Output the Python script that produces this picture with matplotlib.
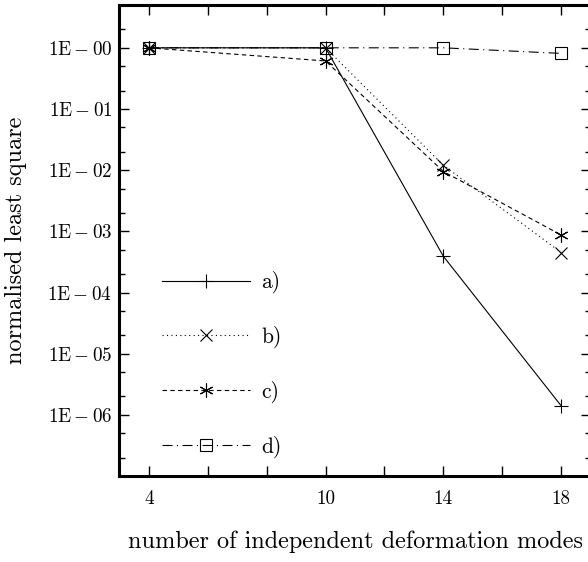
import matplotlib
matplotlib.use("Agg")
import matplotlib.pyplot as plt
from matplotlib.ticker import FixedLocator, FixedFormatter, NullFormatter

plt.rcParams['mathtext.fontset'] = 'cm'
plt.rcParams['font.family'] = 'cmr10'
plt.rcParams['axes.unicode_minus'] = False
plt.rcParams['axes.formatter.use_mathtext'] = True

# data
modes = [4, 10, 14, 18]
series_a = [1.0, 1.0, 3.9e-4, 1.4e-6]
series_b = [1.0, 1.0, 1.2e-2, 4.5e-4]
series_c = [1.0, 0.61, 9.5e-3, 8.7e-4]
series_d = [1.0, 1.0, 1.0, 0.81]
labels = ['a)', 'b)', 'c)', 'd)']
x_tick_all = [4, 6, 8, 10, 12, 14, 16, 18]
x_tick_labels = ['4', '', '', '10', '', '14', '', '18']
y_tick_vals = [1e0, 1e-1, 1e-2, 1e-3, 1e-4, 1e-5, 1e-6]
y_tick_labels = [r'$\mathrm{1E-00}$', r'$\mathrm{1E-01}$', r'$\mathrm{1E-02}$',
                 r'$\mathrm{1E-03}$', r'$\mathrm{1E-04}$', r'$\mathrm{1E-05}$',
                 r'$\mathrm{1E-06}$']

fig = plt.figure(figsize=(5.88, 5.62), dpi=100)
ax = fig.add_axes([0.2029, 0.153, 0.8017, 0.838])

lw = 0.8
ax.plot(modes, series_a, color='black', lw=lw, ls='-', marker='+', ms=10, mew=0.8, label=labels[0])
ax.plot(modes, series_b, color='black', lw=lw, ls=(0, (1, 3)), marker='x', ms=8, mew=0.8, label=labels[1])
ax.plot(modes, series_c, color='black', lw=lw, ls=(0, (4, 3)), marker=(6, 2, 0), ms=10, mew=0.8, label=labels[2])
ax.plot(modes, series_d, color='black', lw=lw, ls=(0, (9, 4, 1, 4)), marker='s', ms=8, mew=0.8,
        mfc='none', label=labels[3])

ax.set_yscale('log')
ax.set_xlim(3, 19)
ax.set_ylim(1e-7, 5)

ax.xaxis.set_major_locator(FixedLocator(x_tick_all))
ax.xaxis.set_major_formatter(FixedFormatter(x_tick_labels))
ax.xaxis.set_minor_locator(FixedLocator([]))

ax.yaxis.set_major_locator(FixedLocator(y_tick_vals))
ax.yaxis.set_major_formatter(FixedFormatter(y_tick_labels))
minor = []
for k in range(-7, 1):
    for m in (2, 5):
        v = m * 10.0 ** k
        if 1e-7 < v < 5:
            minor.append(v)
ax.yaxis.set_minor_locator(FixedLocator(minor))
ax.yaxis.set_minor_formatter(NullFormatter())

ax.tick_params(which='major', direction='in', length=7, width=1, top=True, right=True,
               labelsize=13.8)
ax.tick_params(which='minor', direction='in', length=4.5, width=1, top=True, right=True)
ax.tick_params(axis='x', pad=10)
ax.tick_params(axis='y', pad=5)
for sp in ax.spines.values():
    sp.set_linewidth(2.2)

ax.set_xlabel('number of independent deformation modes', fontsize=17.5, labelpad=16.5)
ax.set_ylabel('normalised least square', fontsize=17.5, labelpad=14.5)

leg = ax.legend(loc='upper left', bbox_to_anchor=(0.09, 0.435), frameon=False,
                handlelength=4.09, handletextpad=0.55, labelspacing=1.51,
                borderpad=0, borderaxespad=0, numpoints=1, fontsize=15.5)

fig.savefig('out.png', dpi=100)
